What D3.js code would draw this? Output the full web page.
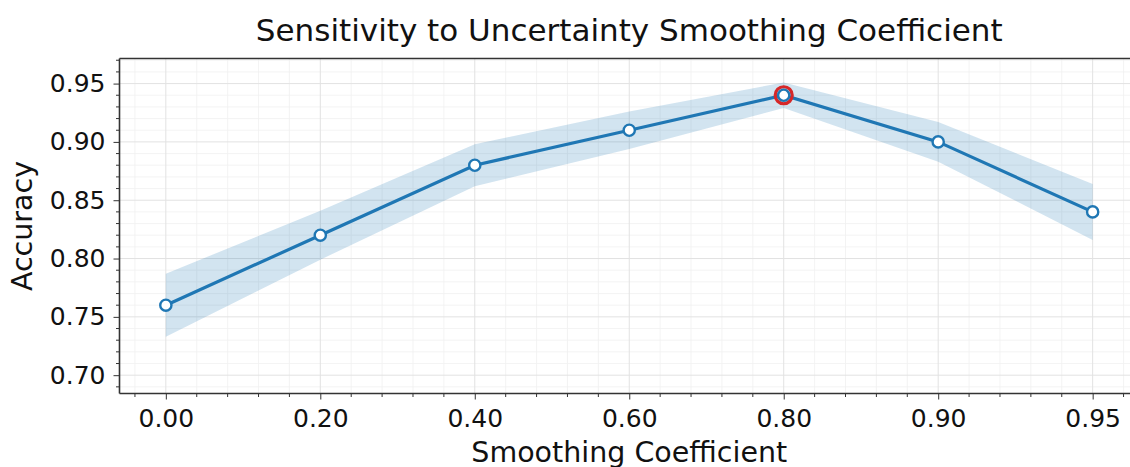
<!DOCTYPE html>
<html>
<head>
<meta charset="utf-8">
<script src="https://cdn.jsdelivr.net/npm/d3@7"></script>
<style>
  body { margin: 0; background: #fff; }
  svg text { font-family: "DejaVu Sans", sans-serif; fill: #111; }
</style>
</head>
<body>
<svg></svg>
<script>
var svgWidth = 1130, svgHeight = 467;

// data
var coefLabels = ["0.00", "0.20", "0.40", "0.60", "0.80", "0.90", "0.95"];
var accuracy   = [0.76, 0.82, 0.88, 0.91, 0.94, 0.90, 0.84];
var spread     = [0.027, 0.021, 0.018, 0.016, 0.011, 0.017, 0.024];
var yTicks     = [0.70, 0.75, 0.80, 0.85, 0.90, 0.95];
var bestIndex  = 4;

var margin = {left: 119.5, top: 58.5, right: -9, bottom: 73.5};
var plotW = svgWidth - margin.left - margin.right,
    plotH = svgHeight - margin.top - margin.bottom;

var svg = d3.select("svg")
            .attr("width", svgWidth)
            .attr("height", svgHeight);

var g = svg.append("g")
           .attr("transform", "translate(" + margin.left + "," + margin.top + ")");

var x = d3.scaleLinear().domain([-0.3, coefLabels.length - 1 + 0.3]).range([0, plotW]);
var y = d3.scaleLinear().domain([0.6843, 0.9715]).range([plotH, 0]);

var xMinor = d3.range(-1, coefLabels.length * 5 + 2).map(function(i) { return i / 5; })
               .filter(function(v) { return v >= -0.3 && v <= coefLabels.length - 1 + 0.3 && Math.abs(v - Math.round(v)) > 1e-6; });
var yMinor = d3.range(69, 98).map(function(i) { return i / 100; })
               .filter(function(v) { return Math.abs(v * 20 - Math.round(v * 20)) > 1e-6; });

// grid
g.append("g").selectAll("line").data(xMinor).enter().append("line")
    .attr("x1", x).attr("x2", x).attr("y1", 0).attr("y2", plotH)
    .attr("stroke", "#f0f0f0").attr("stroke-width", 0.8);
g.append("g").selectAll("line").data(yMinor).enter().append("line")
    .attr("y1", y).attr("y2", y).attr("x1", 0).attr("x2", plotW)
    .attr("stroke", "#f0f0f0").attr("stroke-width", 0.8);
g.append("g").selectAll("line").data(d3.range(coefLabels.length)).enter().append("line")
    .attr("x1", x).attr("x2", x).attr("y1", 0).attr("y2", plotH)
    .attr("stroke", "#e2e2e2").attr("stroke-width", 1);
g.append("g").selectAll("line").data(yTicks).enter().append("line")
    .attr("y1", y).attr("y2", y).attr("x1", 0).attr("x2", plotW)
    .attr("stroke", "#e2e2e2").attr("stroke-width", 1);

// band
var band = d3.area()
    .x(function(d, i) { return x(i); })
    .y0(function(d, i) { return y(d - spread[i]); })
    .y1(function(d, i) { return y(d + spread[i]); });
g.append("path").datum(accuracy)
    .attr("d", band)
    .attr("fill", "#1f77b4").attr("fill-opacity", 0.2);

// line
var line = d3.line()
    .x(function(d, i) { return x(i); })
    .y(function(d) { return y(d); });
g.append("path").datum(accuracy)
    .attr("d", line)
    .attr("fill", "none").attr("stroke", "#1f77b4").attr("stroke-width", 3.2);

// highlight ring on best
g.append("circle")
    .attr("cx", x(bestIndex)).attr("cy", y(accuracy[bestIndex]))
    .attr("r", 8.5)
    .attr("fill", "none").attr("stroke", "#d62728").attr("stroke-width", 3.2);

g.append("g").selectAll("circle").data(accuracy).enter().append("circle")
    .attr("cx", function(d, i) { return x(i); })
    .attr("cy", function(d) { return y(d); })
    .attr("r", 5.6)
    .attr("fill", "#fff").attr("stroke", "#1f77b4").attr("stroke-width", 2.4);

// axes
var xAxis = g.append("g").attr("transform", "translate(0," + plotH + ")")
    .call(d3.axisBottom(x).tickValues(d3.range(coefLabels.length))
        .tickFormat(function(i) { return coefLabels[i]; }).tickSize(6).tickPadding(10));
xAxis.append("g").selectAll("line").data(xMinor).enter().append("line")
    .attr("x1", x).attr("x2", x).attr("y1", 0).attr("y2", 3.5).attr("stroke", "#333");

var yAxis = g.append("g")
    .call(d3.axisLeft(y).tickValues(yTicks).tickFormat(d3.format(".2f")).tickSize(6).tickPadding(8));
yAxis.append("g").selectAll("line").data(yMinor).enter().append("line")
    .attr("y1", y).attr("y2", y).attr("x1", 0).attr("x2", -3.5).attr("stroke", "#333");

[xAxis, yAxis].forEach(function(a) {
    a.select(".domain").remove();
    a.selectAll(".tick line").attr("stroke", "#333").attr("stroke-width", 1);
    a.selectAll("text").style("font-size", "25px").attr("fill", "#111");
});

// spines
g.append("line").attr("x1", 0).attr("x2", 0).attr("y1", 0).attr("y2", plotH)
    .attr("stroke", "#333").attr("stroke-width", 1.6);
g.append("line").attr("x1", 0).attr("x2", plotW).attr("y1", plotH).attr("y2", plotH)
    .attr("stroke", "#333").attr("stroke-width", 1.6);
g.append("line").attr("x1", 0).attr("x2", plotW).attr("y1", 0).attr("y2", 0)
    .attr("stroke", "#333").attr("stroke-width", 1.6);

// labels
svg.append("text")
    .attr("x", margin.left + plotW / 2).attr("y", 41)
    .attr("text-anchor", "middle").style("font-size", "31px")
    .text("Sensitivity to Uncertainty Smoothing Coefficient");

svg.append("text")
    .attr("x", margin.left + plotW / 2).attr("y", 462)
    .attr("text-anchor", "middle").style("font-size", "28.5px")
    .text("Smoothing Coefficient");

svg.append("text")
    .attr("transform", "translate(32," + (margin.top + plotH / 2) + ") rotate(-90)")
    .attr("text-anchor", "middle").style("font-size", "28.5px")
    .text("Accuracy");
</script>
</body>
</html>
